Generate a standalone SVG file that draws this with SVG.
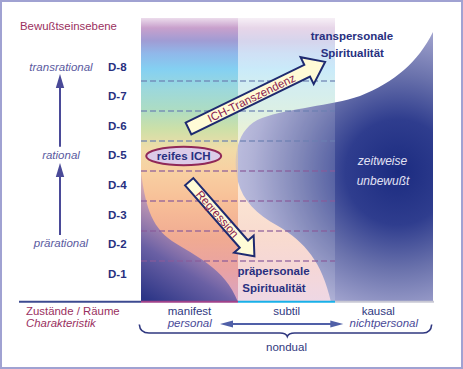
<svg xmlns="http://www.w3.org/2000/svg" width="463" height="369" viewBox="0 0 463 369">
<style>
text{font-family:"Liberation Sans",Arial,sans-serif;}
.lbl{font-size:11.4px;fill:#9a3060;}
.lvl{font-size:11.5px;font-style:italic;fill:#5a5aa0;text-anchor:middle;}
.d{font-size:11.5px;font-weight:bold;fill:#283080;}
.col{font-size:11.5px;fill:#303880;text-anchor:middle;}
.coli{font-size:11.5px;font-style:italic;fill:#4a4a98;text-anchor:middle;}
.sp{font-size:11.5px;font-weight:bold;fill:#283080;text-anchor:middle;}
.arrtxt{font-size:11.5px;fill:#8a2050;text-anchor:middle;}
.dashB{stroke:#6a80b0;stroke-width:1.3;stroke-dasharray:6 3;fill:none;opacity:0.8;}
.dashP{stroke:#8a5a9a;stroke-width:1.3;stroke-dasharray:6 3;fill:none;opacity:0.8;}
.fat{fill:#fffbd6;stroke:#1e2a70;stroke-width:2;stroke-linejoin:miter;}
.vline{stroke:#4a4a98;stroke-width:2;fill:none;}
</style>
<defs>
<linearGradient id="rainbow" gradientUnits="userSpaceOnUse" x1="0" y1="18" x2="0" y2="302">
<stop offset="0" stop-color="#ecdcec"/>
<stop offset="0.035" stop-color="#c8a0cc"/>
<stop offset="0.08" stop-color="#a09cd4"/>
<stop offset="0.125" stop-color="#90b8ea"/>
<stop offset="0.18" stop-color="#84d0f2"/>
<stop offset="0.25" stop-color="#9cd8dc"/>
<stop offset="0.32" stop-color="#acdcc4"/>
<stop offset="0.39" stop-color="#cce0a8"/>
<stop offset="0.46" stop-color="#f0dca8"/>
<stop offset="0.54" stop-color="#f8d0a2"/>
<stop offset="0.64" stop-color="#f8c098"/>
<stop offset="0.78" stop-color="#f0aa92"/>
<stop offset="0.89" stop-color="#e8a2a4"/>
<stop offset="1" stop-color="#d8a4c4"/>
</linearGradient>
<radialGradient id="dark" gradientUnits="userSpaceOnUse" cx="398" cy="172" r="195">
<stop offset="0" stop-color="#1b2b80"/>
<stop offset="0.27" stop-color="#2f3d8e"/>
<stop offset="0.5" stop-color="#6a72ac"/>
<stop offset="0.75" stop-color="#a4a6d0"/>
<stop offset="1" stop-color="#c8c8e4"/>
</radialGradient>
<linearGradient id="mdark" gradientUnits="userSpaceOnUse" x1="146" y1="300" x2="205" y2="205">
<stop offset="0" stop-color="#2b3586"/>
<stop offset="0.4" stop-color="#6a60a4"/>
<stop offset="0.75" stop-color="#a888bc" stop-opacity="0.75"/>
<stop offset="1" stop-color="#c8a0c8" stop-opacity="0.35"/>
</linearGradient>
<clipPath id="rightOf"><rect x="238" y="0" width="225" height="369"/></clipPath>
<clipPath id="leftOf"><rect x="0" y="0" width="238" height="369"/></clipPath>
<path id="darkShape" d="M433,32 C418,62 395,82 360,96 C330,106 290,108 262,118 C240,126 234,150 236,170 C238,195 252,212 278,226 C305,242 322,262 331,302 L433,302 Z"/>
</defs>

<rect x="0" y="0" width="463" height="369" fill="#ffffff"/>
<rect x="1" y="1" width="461" height="367" fill="none" stroke="#a0a2d2" stroke-width="2"/>

<g id="background">
<rect x="141" y="18" width="97" height="284" fill="url(#rainbow)"/>
<rect x="238" y="18" width="97" height="284" fill="url(#rainbow)" opacity="0.5"/>
<use href="#darkShape" fill="url(#dark)" clip-path="url(#rightOf)"/>
<use href="#darkShape" fill="url(#dark)" clip-path="url(#leftOf)" opacity="0.35"/>
<path d="M141,172 C145,202 150,226 172,241 C195,256 225,268 238,302 L141,302 Z" fill="url(#mdark)"/>
<rect x="238" y="18" width="97" height="284" fill="#ffffff" opacity="0.14"/>
</g>

<g id="levels-grid">
<line class="dashB" x1="141" y1="81" x2="335" y2="81"/>
<line class="dashB" x1="141" y1="111" x2="335" y2="111"/>
<line class="dashB" x1="141" y1="141" x2="335" y2="141"/>
<line class="dashP" x1="141" y1="171" x2="335" y2="171"/>
<line class="dashP" x1="141" y1="201" x2="335" y2="201"/>
<line class="dashP" x1="141" y1="231" x2="335" y2="231"/>
<line class="dashP" x1="141" y1="261" x2="335" y2="261"/>
</g>

<g id="baseline">
<line x1="19" y1="301.7" x2="141" y2="301.7" stroke="#3c4a90" stroke-width="2"/>
<line x1="141" y1="301.7" x2="238" y2="301.7" stroke="#a0428a" stroke-width="2"/>
<line x1="238" y1="301.7" x2="335" y2="301.7" stroke="#18b0e8" stroke-width="2"/>
<line x1="335" y1="301.7" x2="434" y2="301.7" stroke="#c8c8d4" stroke-width="2"/>
</g>

<g id="axis-title"><text class="lbl" x="20" y="29.5">Bewußtseinsebene</text></g>

<g id="level-names">
<text class="lvl" x="61" y="70.5">transrational</text>
<text class="lvl" x="61" y="158.5">rational</text>
<text class="lvl" x="61" y="246.5">prärational</text>
</g>

<g id="d-labels">
<text class="d" x="108" y="70.7">D-8</text>
<text class="d" x="108" y="100.2">D-7</text>
<text class="d" x="108" y="129.8">D-6</text>
<text class="d" x="108" y="159.3">D-5</text>
<text class="d" x="108" y="188.8">D-4</text>
<text class="d" x="108" y="218.5">D-3</text>
<text class="d" x="108" y="248">D-2</text>
<text class="d" x="108" y="277.6">D-1</text>
</g>

<g id="reifes-ich">
<ellipse cx="183.7" cy="156" rx="37.5" ry="9.3" fill="#dccbe8" stroke="#902858" stroke-width="2"/>
<text class="sp" x="183.7" y="160.2">reifes ICH</text>
</g>

<g id="transpersonal">
<text class="sp" x="352" y="39.5">transpersonale</text>
<text class="sp" x="352.3" y="57">Spiritualität</text>
</g>

<g id="praepersonal">
<text class="sp" x="273.5" y="275">präpersonale</text>
<text class="sp" x="274" y="291.7">Spiritualität</text>
</g>

<g id="unbewusst">
<text x="382.5" y="165" font-size="12" font-style="italic" fill="#e2e2f4" text-anchor="middle">zeitweise</text>
<text x="383" y="185" font-size="12" font-style="italic" fill="#e2e2f4" text-anchor="middle">unbewußt</text>
</g>

<g id="states-title">
<text class="lbl" x="26" y="315">Zustände / Räume</text>
<text class="lbl" x="26" y="327" font-style="italic">Charakteristik</text>
</g>

<g id="manifest">
<text class="col" x="189.5" y="315">manifest</text>
<text class="coli" x="189.7" y="327">personal</text>
</g>
<g id="subtil"><text class="col" x="286.7" y="315">subtil</text></g>
<g id="kausal">
<text class="col" x="378.3" y="315">kausal</text>
<text class="coli" x="383.8" y="327">nichtpersonal</text>
</g>
<g id="nondual"><text class="col" x="286.5" y="351">nondual</text></g>

<g id="connectors">
<line class="vline" x1="60" y1="146.7" x2="60" y2="86"/>
<polygon points="60,74 64.2,88 55.8,88" fill="#4a4a98"/>
<line class="vline" x1="60" y1="235" x2="60" y2="175"/>
<polygon points="60,163 64.2,177 55.8,177" fill="#4a4a98"/>

<line x1="231" y1="324" x2="332" y2="324" stroke="#5060a8" stroke-width="1.8"/>
<polygon points="220,324 233,320.6 233,327.4" fill="#5060a8"/>
<polygon points="343.3,324 330.3,320.6 330.3,327.4" fill="#5060a8"/>

<path d="M139.3,324.5 Q140,333 149,333 L280,333 Q286,333 287.3,336.5 Q288.6,333 294.6,333 L423,333 Q431,333 431.7,324.5" fill="none" stroke="#303880" stroke-width="1.6"/>

<g id="ich-transzendenz" transform="translate(188.5,128.5) rotate(-26)">
<polygon class="fat" points="0,-6.5 132,-6.5 132,-15 152,0 132,15 132,6.5 0,6.5"/>
<text class="arrtxt" x="70" y="4.3">ICH-Transzendenz</text>
</g>
<g id="regression" transform="translate(189.2,181.7) rotate(48.8)">
<polygon class="fat" points="0,-5.5 83,-5.5 83,-13 99,0 83,13 83,5.5 0,5.5"/>
<text class="arrtxt" x="43" y="4.1">Regression</text>
</g>
</g>
</svg>
